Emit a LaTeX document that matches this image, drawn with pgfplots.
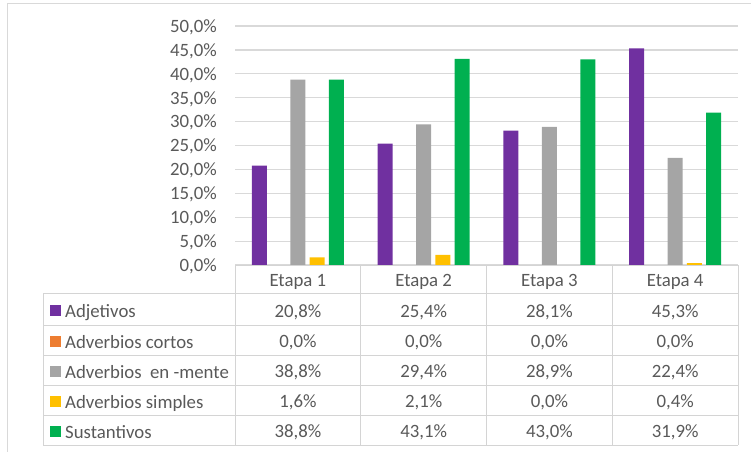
\documentclass[border=0pt]{standalone}
\usepackage{fontspec}
\setmainfont{Carlito}
\usepackage{pgfplots}
\pgfplotsset{compat=1.18}
\usepackage{pgfplotstable}

\definecolor{cAdj}{HTML}{7030A0}
\definecolor{cCortos}{HTML}{ED7D31}
\definecolor{cMente}{HTML}{A5A5A5}
\definecolor{cSimples}{HTML}{FFC000}
\definecolor{cSust}{HTML}{00B050}
\definecolor{txt}{HTML}{595959}
\definecolor{gridgray}{HTML}{D9D9D9}
\definecolor{rulegray}{HTML}{D4D4D4}

% Porcentaje de cada categoría gramatical por etapa
\pgfplotstableread{
x adj cortos mente simples sust
1 20.8 0.0 38.8 1.6 38.8
2 25.4 0.0 29.4 2.1 43.1
3 28.1 0.0 28.9 0.0 43.0
4 45.3 0.0 22.4 0.4 31.9
}\datos

\newcommand{\lbfont}{\fontsize{18.8}{22}\selectfont}

\pgfplotsset{
  barra/.style={ybar, bar width=15pt, bar shift=#1, draw=none},
  fila/.style={only marks, mark=*, mark size=0pt,
    mark options={draw=none, fill=none}, forget plot,
    point meta=explicit,
    nodes near coords={\pgfmathprintnumber[fixed,fixed zerofill,precision=1,use comma]{\pgfplotspointmeta}\%},
    every node near coord/.append style={anchor=base, inner sep=0pt,
      yshift=#1, font=\lbfont, text=txt}},
}

\begin{document}
\begin{tikzpicture}[font=\lbfont]
\begin{axis}[
  at={(235pt,-265pt)}, anchor=south west,
  scale only axis, width=503pt, height=239pt,
  xmin=0.5, xmax=4.5, ymin=0, ymax=50,
  clip=false,
  axis line style={draw=none},
  major tick length=0pt,
  ymajorgrids, grid style={gridgray, line width=1.2pt},
  ytick={0,5,...,50},
  /pgf/number format/assume math mode=true,
  yticklabel={\pgfmathprintnumber[fixed,fixed zerofill,precision=1,use comma]{\tick}\%},
  yticklabel style={anchor=base east, inner sep=0pt, xshift=-18pt, yshift=-6.3pt,
    font=\lbfont, text=txt},
  xtick={1,2,3,4},
  xticklabels={Etapa 1,Etapa 2,Etapa 3,Etapa 4},
  xticklabel style={anchor=base, inner sep=0pt, yshift=-21pt,
    font=\lbfont, text=txt},
]
\addplot[barra=-38.5pt, fill=cAdj]     table[x=x, y=adj]{\datos};
\addplot[barra=-19.25pt, fill=cCortos] table[x=x, y=cortos]{\datos};
\addplot[barra=0pt, fill=cMente]       table[x=x, y=mente]{\datos};
\addplot[barra=19.25pt, fill=cSimples] table[x=x, y=simples]{\datos};
\addplot[barra=38.5pt, fill=cSust]     table[x=x, y=sust]{\datos};

% Valores de la tabla de datos bajo el gráfico
\addplot[fila=-52pt]    table[x=x, y expr=0, meta=adj]{\datos};
\addplot[fila=-82.5pt]  table[x=x, y expr=0, meta=cortos]{\datos};
\addplot[fila=-112.5pt] table[x=x, y expr=0, meta=mente]{\datos};
\addplot[fila=-142.5pt] table[x=x, y expr=0, meta=simples]{\datos};
\addplot[fila=-172.5pt] table[x=x, y expr=0, meta=sust]{\datos};
\end{axis}

\begin{scope}[x=1pt, y=1pt]
  % marco exterior
  \draw[gridgray, line width=1pt] (7,-4) -- (751,-4);
  \draw[gridgray, line width=1pt] (7,-4) -- (7,-452);
  % rejilla de la tabla
  \begin{scope}[rulegray, line width=1pt]
    \draw (235,-265) -- (738,-265);
    \foreach \y in {293,325,355,385,415,445}
      \draw (43,-\y) -- (738,-\y);
    \draw (43,-293) -- (43,-445);
    \foreach \x in {235,360.75,486.5,612.25,738}
      \draw (\x,-265) -- (\x,-445);
  \end{scope}
  % claves de color y nombres de las series
  \foreach \c/\yc/\t in {cAdj/309/Adjetivos,
                         cCortos/340/Adverbios cortos,
                         cMente/370/Adverbios\ \ en -mente,
                         cSimples/400/Adverbios simples,
                         cSust/430/Sustantivos}{
    \fill[\c] (49.5,-\yc-7) rectangle (60.5,-\yc+4);
    \node[anchor=base west, inner sep=0pt, text=txt] at (65,-\yc-8) {\t};
  }
\end{scope}
\pgfresetboundingbox
\path (0,0) rectangle (751pt,-452pt);
\end{tikzpicture}
\end{document}
